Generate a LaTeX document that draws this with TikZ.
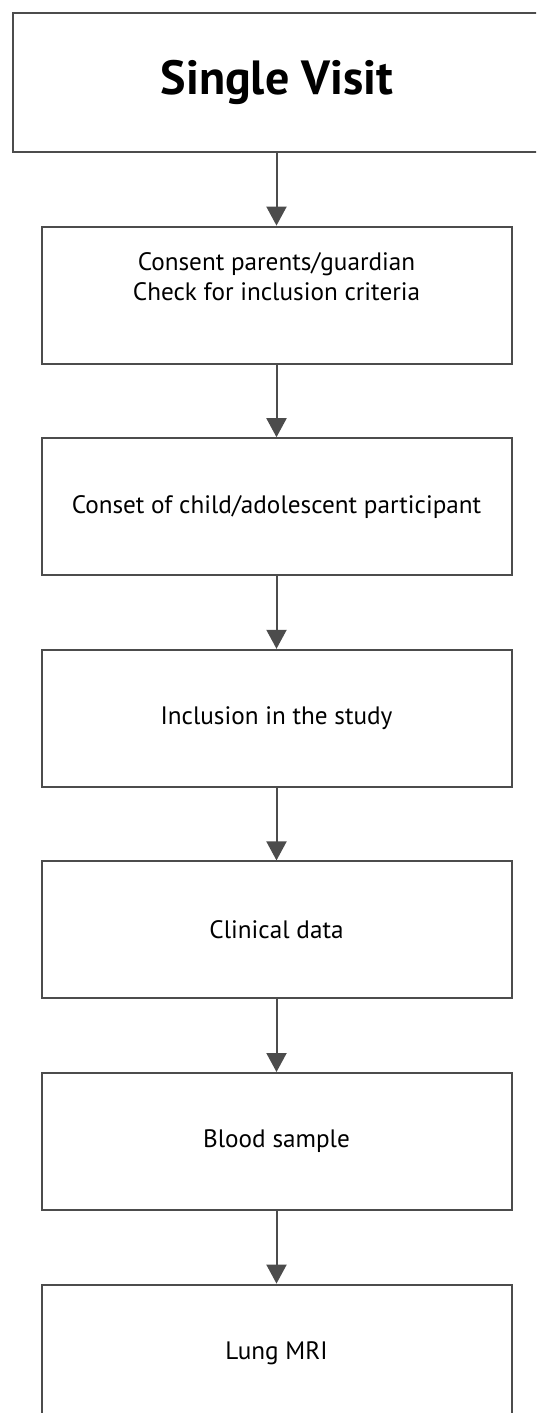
\documentclass[tikz,border=0pt]{standalone}
\usepackage{fontspec}
\setmainfont{PT Sans}
\usetikzlibrary{arrows.meta, positioning}
\definecolor{LineGray}{gray}{0.3}

\begin{document}
\begin{tikzpicture}[scale = 1]%
    %
    \def\boxwidth{235pt}%
    \def\boxheight{68.5pt}%
    \def\boxgap{36.3pt}%
    %
    \tikzstyle{arrow} = [-{Triangle[width = 10pt, length = 9.5pt]}, line width = 1pt, draw = LineGray]%
    \tikzstyle{titlebox} = [draw = LineGray, line width = 1pt, minimum width = 264pt, minimum height = 69.5pt, inner sep = 0pt, font = \fontsize{24}{28}\selectfont\bfseries]%
    \tikzstyle{stepbox} = [draw = LineGray, line width = 1pt, minimum width = \boxwidth, minimum height = \boxheight, inner sep = 0pt, align = center, font = \fontsize{12.6}{15}\selectfont]%
    %
    % Frame
    \useasboundingbox (0, 0) rectangle (268pt, -706.5pt);%
    \clip (0, 0) rectangle (268pt, -706.5pt);%
    %
    % Boxes
    \node (visit) [titlebox] at (138.5pt, -41.25pt) {Single Visit};%
    \node (consent) [stepbox, below = \boxgap of visit.south, anchor = north, xshift = -0.25pt] {Consent parents/guardian\\[0pt]Check for inclusion criteria\\[4pt]};%
    \node (assent) [stepbox, below = \boxgap of consent] {Conset of child/adolescent participant};%
    \node (inclusion) [stepbox, below = \boxgap of assent] {Inclusion in the study};%
    \node (clinical) [stepbox, below = \boxgap of inclusion] {Clinical data};%
    \node (blood) [stepbox, below = \boxgap of clinical] {Blood sample};%
    \node (mri) [stepbox, below = \boxgap of blood] {Lung MRI};%
    %
    % Arrows
    \draw [arrow] (visit.south -| consent.north) -- (consent.north);%
    \draw [arrow] (consent) -- (assent);%
    \draw [arrow] (assent) -- (inclusion);%
    \draw [arrow] (inclusion) -- (clinical);%
    \draw [arrow] (clinical) -- (blood);%
    \draw [arrow] (blood) -- (mri);%
    %
\end{tikzpicture}
\end{document}
